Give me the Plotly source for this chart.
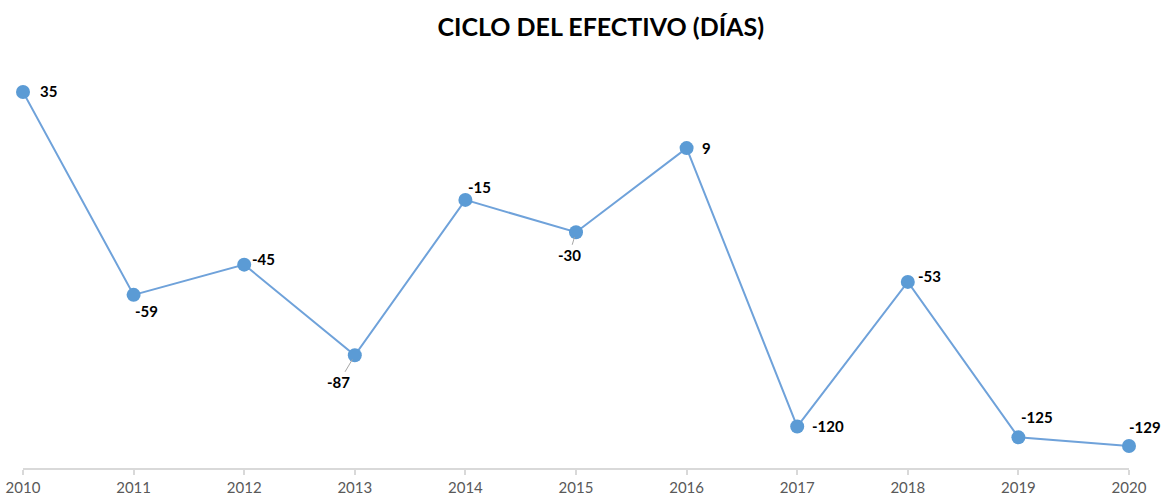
import plotly.graph_objects as go

years = [2010, 2011, 2012, 2013, 2014, 2015, 2016, 2017, 2018, 2019, 2020]
ciclo = [35, -59, -45, -87, -15, -30, 9, -120, -53, -125, -129]
year_labels = [str(y) for y in years]

# label offsets in px (dx right, dy down), and whether a leader line is drawn
offsets = [(25, -1), (13, 16), (19, -6), (-16, 27), (14, -13), (-7, 23),
           (20, 0), (31, -1), (22, -6), (19, -20), (16, -19)]
leaders = [False, False, False, True, False, True, False, False, False, False, False]

FONT = "Lato, Open Sans, sans-serif"

fig = go.Figure()
fig.add_trace(go.Scatter(
    x=years, y=ciclo, mode="lines+markers",
    line=dict(color="#6FA2DA", width=2),
    marker=dict(size=14, color="#5B9BD5", line=dict(width=0)),
    hoverinfo="x+y", showlegend=False, cliponaxis=False,
))

annotations = []
for x, y, (dx, dy), lead in zip(years, ciclo, offsets, leaders):
    txt = f"<b>{y}</b>"
    if lead:
        annotations.append(dict(
            x=x, y=y, xref="x", yref="y", text=txt, showarrow=True,
            ax=dx, ay=dy, arrowhead=0, arrowwidth=1, arrowcolor="#A6A6A6",
            standoff=5, font=dict(family=FONT, size=15, color="#000000"),
        ))
    else:
        annotations.append(dict(
            x=x, y=y, xref="x", yref="y", text=txt, showarrow=False,
            xshift=dx, yshift=-dy,
            font=dict(family=FONT, size=15, color="#000000"),
        ))

fig.update_layout(
    width=1162, height=497,
    margin=dict(l=23, r=33, t=60, b=29, autoexpand=False),
    paper_bgcolor="white", plot_bgcolor="white",
    title=dict(text="<b>CICLO DEL EFECTIVO (DÍAS)</b>", x=0.517, xanchor="center",
               y=0.945, yanchor="middle", automargin=False,
               font=dict(family=FONT, size=25, color="#000000")),
    annotations=annotations,
    xaxis=dict(
        range=[2010, 2020], tickmode="array", tickvals=years, ticktext=year_labels,
        showgrid=False, zeroline=False, showline=True, linecolor="#D9D9D9", linewidth=1.5,
        ticks="outside", ticklen=5, tickcolor="#D9D9D9", tickwidth=1.5, automargin=False,
        tickfont=dict(family=FONT, size=15, color="#595959"),
        fixedrange=True,
    ),
    yaxis=dict(
        range=[-139.2, 49.8], showgrid=False, zeroline=False, showline=False,
        showticklabels=False, ticks="", fixedrange=True, automargin=False,
    ),
)

fig.write_html("out.html")
